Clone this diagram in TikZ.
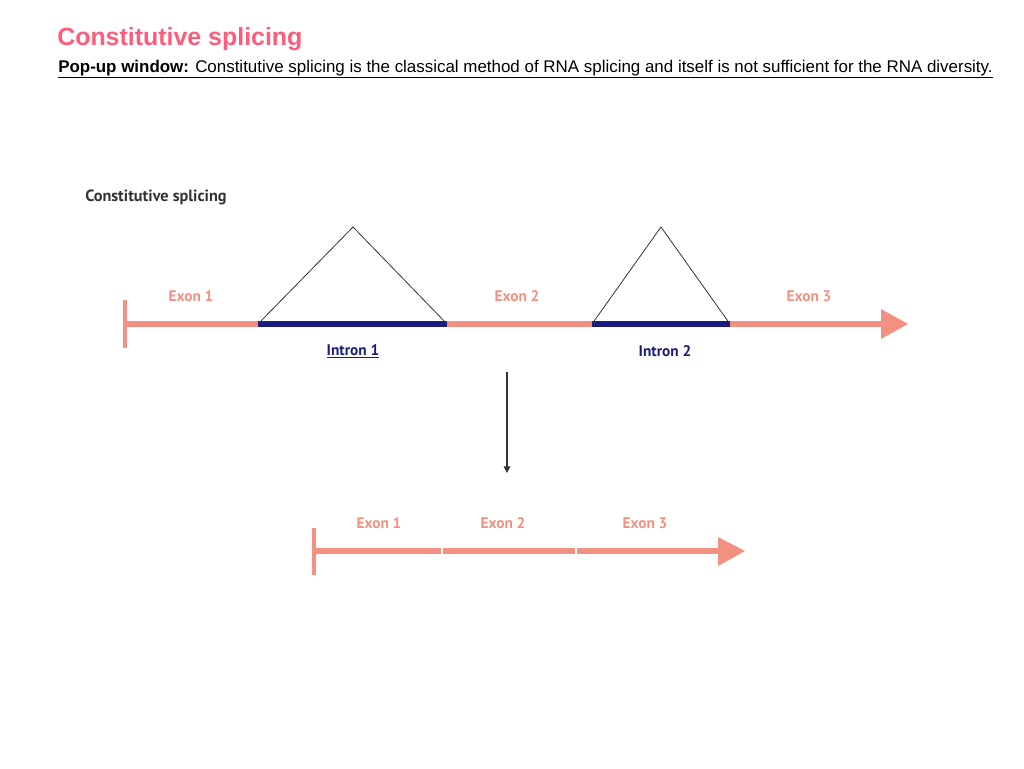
\documentclass[tikz,border=0pt]{standalone}
\usepackage{fontspec}
\setmainfont{Liberation Sans}
\newfontfamily\myriad{PT Sans}
\usetikzlibrary{arrows.meta}
\definecolor{titlepink}{HTML}{FF5C7C}
\definecolor{salmon}{HTML}{F29182}
\definecolor{navy}{HTML}{1C1C80}
\definecolor{darkgray}{HTML}{333333}
\begin{document}
\begin{tikzpicture}[x=0.75pt,y=-0.75pt,
  exonlbl/.style={font=\myriad\bfseries\fontsize{11.5}{13}\selectfont,text=salmon,inner sep=0pt},
  intronlbl/.style={font=\myriad\bfseries\fontsize{11.5}{13}\selectfont,text=navy,inner sep=0pt},
  exonline/.style={draw=salmon,line width=4.8pt},
  intronline/.style={draw=navy,line width=4.8pt},
  loopline/.style={draw=darkgray,line width=0.6pt},
  tipfill/.style={fill=salmon,draw=none}]
\useasboundingbox (0,0) rectangle (1024,768);
% titles
\node[anchor=base west,inner sep=0pt,text=titlepink,font=\bfseries\fontsize{18.7}{22}\selectfont] (title) at (57,45) {Constitutive splicing};
\node[anchor=base west,inner sep=0pt,font=\fontsize{12.7}{15}\selectfont] (sub) at (58,72) {\underline{\textbf{Pop-up window:} Constitutive splicing is the classical method of RNA splicing and itself is not sufficient for the RNA diversity.}};
\node[anchor=base west,inner sep=0pt,text=darkgray,font=\myriad\bfseries\fontsize{12.2}{14}\selectfont] (cs) at (85,201) {Constitutive splicing};
% top gene
\coordinate (t0) at (125,324);
\coordinate (t1) at (258,324);
\coordinate (t2) at (447,324);
\coordinate (t3) at (592,324);
\coordinate (t4) at (730,324);
\coordinate (t5) at (882,324);
\coordinate (a1) at (353,227);
\coordinate (a2) at (661,227);
\draw[salmon,line width=2.8pt] (125,300) -- (125,348);
\draw[exonline] (t0) -- (t1);
\draw[intronline] (t1) -- (t2);
\draw[exonline] (t2) -- (t3);
\draw[intronline] (t3) -- (t4);
\draw[exonline] (t4) -- (t5);
\fill[tipfill] (881,309) -- (908,324) -- (881,339) -- cycle;
\draw[loopline] (t1) -- (a1) -- (t2);
\draw[loopline] (t3) -- (a2) -- (t4);
\node[exonlbl] (e1) at (191,296) {Exon 1};
\node[exonlbl] (e2) at (517,296) {Exon 2};
\node[exonlbl] (e3) at (809,296) {Exon 3};
\node[intronlbl] (i1) at (353,351) {\underline{Intron 1}};
\node[intronlbl] (i2) at (665,351) {Intron 2};
% arrow
\coordinate (d0) at (507,372);
\coordinate (d1) at (507,473);
\draw[darkgray,line width=0.8pt,-{Triangle[length=5pt,width=5pt]}] (d0) -- (d1);
% bottom mRNA
\coordinate (b0) at (314,551);
\coordinate (b1) at (441,551);
\coordinate (b2) at (443,551);
\coordinate (b3) at (575,551);
\coordinate (b4) at (577,551);
\coordinate (b5) at (719,551);
\draw[salmon,line width=2.8pt] (314,528) -- (314,575);
\draw[exonline] (b0) -- (b1);
\draw[exonline] (b2) -- (b3);
\draw[exonline] (b4) -- (b5);
\fill[tipfill] (718,537) -- (745,551) -- (718,566) -- cycle;
\node[exonlbl] (f1) at (379,523) {Exon 1};
\node[exonlbl] (f2) at (503,523) {Exon 2};
\node[exonlbl] (f3) at (645,523) {Exon 3};
\end{tikzpicture}
\end{document}
